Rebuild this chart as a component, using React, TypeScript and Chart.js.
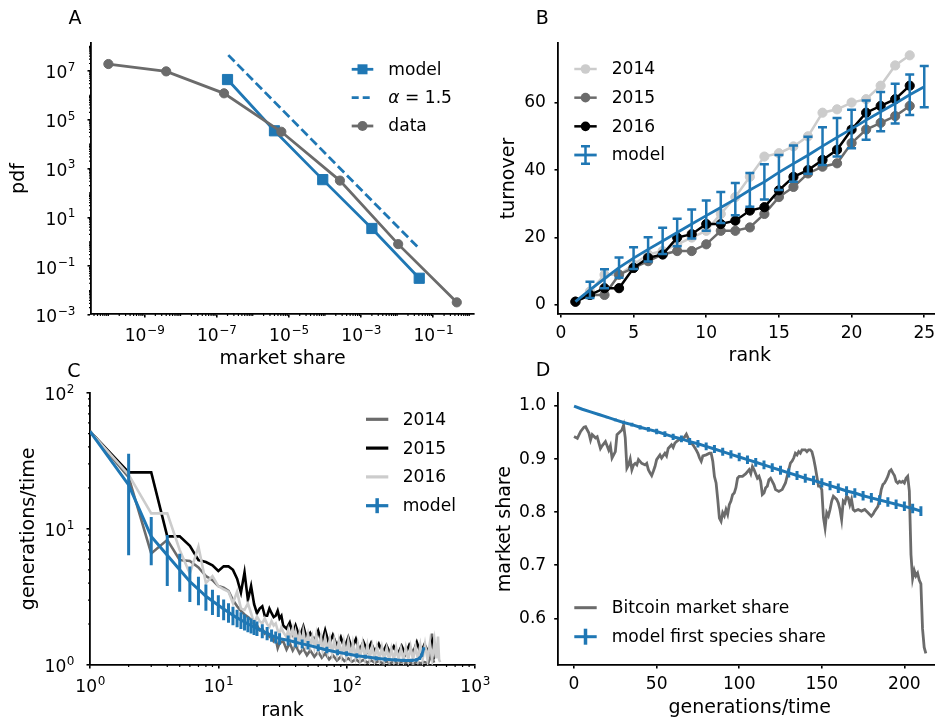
import React, { useEffect, useRef } from 'react';
import { Chart, registerables } from 'chart.js';
Chart.register(...registerables);

const BLUE = '#1f77b4';
const DARK = '#6b6b6b';
const LIGHT = '#cccccc';
const FONT = "'DejaVu Sans', 'Liberation Sans', sans-serif";
const TICK_SIZE = 17.1;
const SUP_SIZE = 12;
const TITLE_SIZE = 19;

// ---------- Panel A ----------
const aDataX = [1e-10, 4e-9, 1.6e-7, 6.2e-6, 2.6e-4, 1.07e-2, 0.45];
const aDataY = [1.9e7, 9.5e6, 1.2e6, 3.2e4, 320, 0.8, 0.0033];
const aModelX = [2e-7, 4e-6, 8.7e-5, 2e-3, 0.041];
const aModelY = [4.4e6, 3.5e4, 350, 3.5, 0.032];
const aAlphaX = [2.1e-7, 0.038];
const aAlphaY = [4.4e7, 0.59];
const aTickExpX = [-9, -7, -5, -3, -1];
const aTickExpY = [-3, -1, 1, 3, 5, 7];

// ---------- Panel B ----------
const bRank = [1, 2, 3, 4, 5, 6, 7, 8, 9, 10, 11, 12, 13, 14, 15, 16, 17, 18, 19, 20, 21, 22, 23, 24];
const b2014 = [1, 4, 9, 9, 12, 15, 16, 18, 20, 22, 27, 32, 38, 44, 45, 47, 50, 57, 58, 60, 61, 65, 71, 74];
const b2015 = [1, 3, 3, 9, 11, 13, 15, 16, 16, 18, 22, 22, 23, 27, 32, 35, 39, 41, 42, 48, 52, 54, 56, 59];
const b2016 = [1, 3, 5, 5, 11, 14, 15, 20, 21, 24, 24, 25, 28, 29, 34, 38, 40, 43, 46, 52, 57, 59, 61, 65];
const bModelRank = [1, 2, 3, 4, 5, 6, 7, 8, 9, 10, 11, 12, 13, 14, 15, 16, 17, 18, 19, 20, 21, 22, 23, 24, 25];
const bModelMean = [1, 4.5, 7.8, 11.1, 13.9, 16.5, 19, 21.5, 24, 26.5, 28.9, 31.4, 34.1, 36.5, 39.3, 41.9, 44.4, 47.1, 49.7, 52.2, 54.8, 57.3, 59.7, 62.3, 64.7];
const bModelErr = [0, 2.4, 2.8, 3.0, 3.2, 3.6, 3.9, 4.1, 4.3, 4.5, 4.6, 4.8, 5.0, 5.2, 5.2, 5.4, 5.5, 5.6, 5.7, 5.7, 5.8, 5.8, 5.9, 6.0, 6.1];
const bTicksX = [0, 5, 10, 15, 20, 25];
const bTicksY = [0, 20, 40, 60];

// ---------- Panel C ----------
const c2014Rank = [1, 2, 3, 4, 5, 6, 7, 8, 9, 10, 11, 12, 13, 14, 15, 16, 17, 18, 19, 20, 21, 22, 23, 24, 25, 26, 27, 28, 29, 30,
  32, 34, 36, 38, 40, 43, 46, 49, 52, 56, 60, 64, 68, 73, 78, 84, 90, 96, 103, 110, 118, 126, 135, 145, 155, 166, 178, 190, 204,
  218, 233, 250, 268, 287, 307, 329, 352, 377, 404, 432, 450, 462, 470, 480];
const c2014Val = [52, 24, 6.6, 8.3, 5.9, 5.8, 5.2, 4.5, 4.2, 3.8, 3.7, 3.5, 3.0, 2.7, 2.5, 2.35, 2.25, 2.15, 2.0, 1.95, 1.8, 1.85, 1.7, 1.75, 1.62, 1.68, 1.5, 1.55, 1.33, 1.45,
  1.5, 1.3, 1.45, 1.28, 1.4, 1.22, 1.32, 1.18, 1.28, 1.15, 1.25, 1.13, 1.22, 1.1, 1.18, 1.08, 1.15, 1.07, 1.12, 1.06, 1.1, 1.05, 1.09, 1.04, 1.08, 1.04, 1.07, 1.03, 1.06,
  1.03, 1.06, 1.03, 1.05, 1.03, 1.05, 1.02, 1.05, 1.03, 1.05, 1.03, 1.15, 1.7, 1.1, 1.04];
const c2015Rank = [1, 2, 3, 4, 5, 6, 7, 8, 9, 10, 11, 12, 13, 14, 15, 16, 17, 18, 19, 20, 21, 22, 23, 24, 25, 26, 27, 28, 29, 30, 31, 32,
  34, 36, 38, 40, 43, 46, 49, 52, 56, 60, 64, 68, 73, 78, 84, 90, 96, 103, 110, 118, 126, 135, 145, 155, 166, 178, 190, 204,
  218, 233, 250, 268, 287, 307, 329, 352, 377, 404, 432, 462, 475];
const c2015Val = [52, 26, 26, 8.8, 8.8, 7.5, 5.9, 5.7, 5.4, 4.9, 5.3, 5.3, 5.0, 4.3, 3.4, 4.8, 3.0, 3.8, 2.8, 2.4, 2.6, 2.7, 2.3, 2.3, 2.6, 2.4, 2.25, 2.3, 2.5, 2.2, 2.3, 1.95,
  1.85, 2.05, 1.7, 1.95, 1.6, 1.92, 1.55, 1.72, 1.5, 1.78, 1.45, 1.8, 1.42, 1.66, 1.38, 1.6, 1.33, 1.6, 1.32, 1.55, 1.28, 1.48, 1.26, 1.45, 1.25, 1.43, 1.23, 1.4,
  1.22, 1.37, 1.2, 1.38, 1.2, 1.4, 1.22, 1.47, 1.22, 1.42, 1.25, 1.48, 1.1];
const c2016Rank = [1, 2, 3, 4, 5, 6, 7, 8, 9, 10, 11, 12, 13, 14, 15, 16, 17, 18, 19, 20, 21, 22, 23, 24, 25, 26, 27, 28, 29, 30, 31, 32,
  34, 35, 36, 38, 39, 40, 42, 43, 45, 46, 48, 50, 52, 54, 56, 58, 60, 63, 65, 68, 71, 74, 77, 80, 84, 87, 91, 95,
  99, 103, 108, 112, 117, 122, 127, 133, 139, 145, 151, 158, 165, 172, 180, 188, 196, 205, 214, 223,
  233, 243, 254, 265, 277, 289, 302, 315, 329, 344, 359, 375, 391, 408, 426, 445, 464, 484, 500, 515, 525, 535];
const c2016Val = [52, 25, 13, 13, 7.0, 4.7, 7.4, 4.0, 4.5, 3.8, 3.6, 3.46, 2.84, 3.46, 2.6, 2.54, 2.84, 2.4, 2.02, 2.27, 2.1, 2.02, 2.2, 2.0, 1.91, 2.1, 1.95, 2.02, 1.8, 1.71, 1.9, 1.75,
  1.6, 1.8, 1.55, 1.85, 1.5, 1.75, 1.45, 1.7, 1.42, 1.75, 1.4, 1.68, 1.38, 1.62, 1.35, 1.66, 1.3, 1.6, 1.28, 1.58, 1.25, 1.55, 1.22, 1.52, 1.2, 1.5, 1.18, 1.48,
  1.16, 1.5, 1.15, 1.45, 1.14, 1.42, 1.12, 1.44, 1.12, 1.4, 1.11, 1.38, 1.1, 1.36, 1.1, 1.35, 1.09, 1.33, 1.09, 1.32,
  1.08, 1.34, 1.09, 1.32, 1.08, 1.34, 1.09, 1.36, 1.09, 1.37, 1.1, 1.4, 1.1, 1.42, 1.1, 1.45, 1.1, 1.5, 1.12, 1.62, 1.1, 1.05];
const cModelRank = [1, 2, 3, 4, 5, 6, 7, 8, 9, 10, 11, 12, 13, 14, 15, 16, 17, 18, 19, 20, 22, 24, 26, 28, 30, 35, 40, 45, 50, 60, 70, 85, 100,
  120, 140, 170, 200, 240, 280, 320, 350, 370, 385, 398];
const cModelVal = [52, 21, 8.8, 6.4, 5.0, 4.1, 3.6, 3.2, 2.95, 2.75, 2.58, 2.44, 2.32, 2.22, 2.14, 2.07, 2.0, 1.95, 1.9, 1.86, 1.78, 1.71, 1.65, 1.6, 1.56, 1.52, 1.47, 1.43, 1.4, 1.34, 1.29, 1.24, 1.21,
  1.17, 1.15, 1.12, 1.1, 1.09, 1.08, 1.08, 1.09, 1.12, 1.18, 1.32];
const cModelErr = [0, 14.6, 3.4, 2.6, 1.55, 1.2, 0.85, 0.7, 0.62, 0.5, 0.45, 0.4, 0.36, 0.33, 0.3, 0.28, 0.26, 0.25, 0.24, 0.23, 0.21, 0.19, 0.17, 0.16, 0.15, 0.13, 0.12, 0.11, 0.1, 0.08, 0.07, 0.06, 0.05,
  0.05, 0.04, 0.04, 0.04, 0.03, 0.03, 0.03, 0.03, 0.03, 0.03, 0.03];
const cTickExpX = [0, 1, 2, 3];
const cTickExpY = [0, 1, 2];

// ---------- Panel D ----------
const dBtcT = [0, 2, 4, 6, 7, 9, 10, 11, 13, 14, 16, 17, 19, 21, 22, 23, 25, 26, 28, 29, 30, 31, 32, 33, 34, 35, 36, 37, 38, 39, 41, 43, 44, 45, 46, 47, 48, 49, 50,
  52, 53, 55, 56, 57, 59, 60, 61, 62, 64, 65, 67, 68, 70, 72, 74, 75, 76, 77, 78, 80, 82, 83, 84, 85, 86, 87, 88, 89, 90, 91, 92, 93, 94, 95, 96, 97, 98, 99, 100,
  102, 104, 106, 107, 108, 109, 111, 112, 113, 114, 115, 116, 117, 118, 119, 121, 122, 124, 126, 128, 129, 130, 131, 132, 133, 134, 135, 136, 137, 138, 140,
  141, 142, 143, 144, 145, 146, 147, 148, 149, 150, 151, 152, 153, 154, 155, 156, 157, 158, 159, 160, 161, 162, 163, 164, 165, 166, 167, 168, 169, 170,
  172, 174, 176, 178, 180, 181, 182, 184, 185, 186, 187, 188, 189, 190, 191, 192, 193, 194, 195, 196, 197, 198, 199, 200, 201, 202, 203, 204, 205, 206,
  207, 208, 209, 210, 211, 212, 213];
const dBtcShare = [0.9425, 0.939, 0.952, 0.96, 0.961, 0.949, 0.936, 0.946, 0.94, 0.942, 0.92, 0.925, 0.933, 0.917, 0.925, 0.902, 0.914, 0.946, 0.952, 0.955, 0.964, 0.94, 0.883, 0.889, 0.9, 0.88, 0.889, 0.892, 0.889, 0.899, 0.892, 0.889, 0.892, 0.88, 0.874, 0.869, 0.877, 0.886, 0.899,
  0.908, 0.902, 0.911, 0.906, 0.92, 0.927, 0.922, 0.93, 0.933, 0.9375, 0.936, 0.942, 0.947, 0.933, 0.927, 0.917, 0.911, 0.902, 0.896, 0.906, 0.908, 0.911, 0.911, 0.896, 0.867, 0.855, 0.824, 0.789, 0.783, 0.799, 0.793, 0.805, 0.796, 0.814, 0.821, 0.833, 0.836, 0.846, 0.864, 0.8675,
  0.8675, 0.8725, 0.88, 0.8725, 0.886, 0.88, 0.864, 0.8675, 0.858, 0.833, 0.836, 0.846, 0.849, 0.861, 0.864, 0.852, 0.8425, 0.839, 0.8425, 0.855, 0.8675, 0.88, 0.8925, 0.896, 0.902, 0.911, 0.908, 0.914, 0.911, 0.9175, 0.9175,
  0.914, 0.9175, 0.9175, 0.914, 0.902, 0.886, 0.8675, 0.849, 0.849, 0.8425, 0.79, 0.77, 0.799, 0.793, 0.805, 0.821, 0.83, 0.827, 0.824, 0.8175, 0.805, 0.786, 0.821, 0.8175, 0.83, 0.827, 0.814, 0.824, 0.805, 0.802,
  0.805, 0.802, 0.805, 0.799, 0.7925, 0.796, 0.802, 0.811, 0.824, 0.8425, 0.852, 0.855, 0.861, 0.8675, 0.877, 0.88, 0.874, 0.869, 0.858, 0.855, 0.858, 0.856, 0.858, 0.855, 0.864, 0.8675, 0.84, 0.72, 0.675, 0.69,
  0.68, 0.685, 0.672, 0.665, 0.58, 0.545, 0.534];
const dModelT = [0, 5, 10, 15, 20, 25, 30, 35, 40, 45, 50, 55, 60, 65, 70, 75, 80, 85, 90, 95, 100, 105, 110, 115, 120, 125, 130, 135, 140, 145, 150, 155, 160, 165, 170, 175, 180, 185, 190, 195, 200, 205, 210];
const dModelShare = [1.0, 0.994, 0.989, 0.984, 0.979, 0.974, 0.969, 0.965, 0.96, 0.956, 0.952, 0.947, 0.942, 0.938, 0.933, 0.929, 0.924, 0.919, 0.914, 0.909, 0.904, 0.899, 0.894, 0.889, 0.884, 0.879, 0.874, 0.869, 0.864, 0.86, 0.855, 0.85, 0.845, 0.84, 0.836, 0.831, 0.827, 0.823, 0.819, 0.815, 0.811, 0.807, 0.802];
const dModelErr = [0, 0.0005, 0.001, 0.0015, 0.002, 0.0025, 0.003, 0.0035, 0.004, 0.0045, 0.005, 0.0055, 0.006, 0.0063, 0.0066, 0.007, 0.0072, 0.0074, 0.0076, 0.0078, 0.008, 0.008, 0.0082, 0.0082, 0.0084, 0.0084, 0.0085, 0.0085, 0.0086, 0.0086, 0.0087, 0.0087, 0.0088, 0.0088, 0.0089, 0.0089, 0.009, 0.009, 0.009, 0.009, 0.009, 0.009, 0.009];
const dTicksX = [0, 50, 100, 150, 200];
const dTicksY = [0.6, 0.7, 0.8, 0.9, 1.0];

// ---------- helpers ----------
const xy = (xs: number[], ys: number[]) => xs.map((x, i) => ({ x, y: ys[i] }));
const minorLogValues = (eMin: number, eMax: number, majorsExp: number[]) => {
  const out: number[] = [];
  for (let e = eMin; e <= eMax; e++) {
    for (let k = 1; k <= 9; k++) {
      if (k === 1 && majorsExp.includes(e)) continue;
      out.push(k * Math.pow(10, e));
    }
  }
  return out;
};

const errorBarPlugin = {
  id: 'errorBars',
  afterDatasetDraw(chart: any, args: any) {
    const ds: any = chart.data.datasets[args.index];
    if (!ds.errors) return;
    const meta = args.meta;
    const ys = chart.scales[meta.yAxisID];
    const { ctx, chartArea } = chart;
    ctx.save();
    ctx.beginPath();
    ctx.rect(chartArea.left - 10, chartArea.top, chartArea.right - chartArea.left + 20, chartArea.bottom - chartArea.top);
    ctx.clip();
    ctx.strokeStyle = ds.borderColor;
    ctx.lineWidth = ds.errorWidth;
    meta.data.forEach((pt: any, i: number) => {
      const e = ds.errors[i];
      if (!e) return;
      const v = ds.data[i].y;
      const yTop = ys.getPixelForValue(v + e);
      const lo = v - e;
      const yBot = lo > 0 || ys.type !== 'logarithmic' ? ys.getPixelForValue(lo) : chartArea.bottom + 5;
      ctx.beginPath();
      ctx.moveTo(pt.x, yTop);
      ctx.lineTo(pt.x, yBot);
      ctx.stroke();
      if (ds.capHalf) {
        ctx.beginPath();
        ctx.moveTo(pt.x - ds.capHalf, yTop);
        ctx.lineTo(pt.x + ds.capHalf, yTop);
        ctx.moveTo(pt.x - ds.capHalf, yBot);
        ctx.lineTo(pt.x + ds.capHalf, yBot);
        ctx.stroke();
      }
    });
    ctx.restore();
  },
};

const minorTickPlugin = {
  id: 'minorTicks',
  afterDraw(chart: any, _a: any, opts: any) {
    if (!opts || !opts.enabled) return;
    const { ctx, chartArea } = chart;
    const xs = chart.scales.x;
    const ys = chart.scales.y;
    ctx.save();
    ctx.strokeStyle = '#000';
    ctx.lineWidth = 1.2;
    for (const v of opts.x || []) {
      if (v < xs.min || v > xs.max) continue;
      const p = xs.getPixelForValue(v);
      ctx.beginPath();
      ctx.moveTo(p, chartArea.bottom);
      ctx.lineTo(p, chartArea.bottom + opts.len);
      ctx.stroke();
    }
    for (const v of opts.y || []) {
      if (v < ys.min || v > ys.max) continue;
      const p = ys.getPixelForValue(v);
      ctx.beginPath();
      ctx.moveTo(chartArea.left, p);
      ctx.lineTo(chartArea.left - opts.len, p);
      ctx.stroke();
    }
    ctx.restore();
  },
};

// draws "10" with a raised exponent (mathtext style) for log axes
const powLabelPlugin = {
  id: 'powLabels',
  afterDraw(chart: any, _a: any, opts: any) {
    if (!opts || !opts.enabled) return;
    const { ctx, chartArea } = chart;
    const xs = chart.scales.x;
    const ys = chart.scales.y;
    ctx.save();
    ctx.fillStyle = '#000';
    ctx.textBaseline = 'alphabetic';
    ctx.textAlign = 'left';
    const base = `${TICK_SIZE}px ${FONT}`;
    const sup = `${SUP_SIZE}px ${FONT}`;
    const parts = (v: number) => {
      const e = Math.round(Math.log10(v));
      const es = String(e).replace('-', '\u2212');
      ctx.font = base;
      const w1 = ctx.measureText('10').width;
      ctx.font = sup;
      const w2 = ctx.measureText(es).width;
      return { es, w1, w2 };
    };
    const draw = (p: any, x: number, yb: number) => {
      ctx.font = base;
      ctx.fillText('10', x, yb);
      ctx.font = sup;
      ctx.fillText(p.es, x + p.w1 + 0.6, yb - opts.raise);
    };
    xs.ticks.forEach((t: any) => {
      const px = xs.getPixelForValue(t.value);
      const p = parts(t.value);
      draw(p, px - (p.w1 + p.w2) / 2, chartArea.bottom + opts.xBase);
    });
    ys.ticks.forEach((t: any) => {
      const py = ys.getPixelForValue(t.value);
      const p = parts(t.value);
      draw(p, chartArea.left - opts.yGap - (p.w1 + p.w2 + 0.6), py + opts.yBase);
    });
    ctx.restore();
  },
};

const legendPlugin = {
  id: 'panelLegend',
  afterDraw(chart: any, _a: any, opts: any) {
    if (!opts || !opts.items) return;
    const ctx = chart.ctx;
    ctx.save();
    opts.items.forEach((it: any, i: number) => {
      const y = opts.y0 + i * opts.dy;
      const x0 = opts.x0;
      const x1 = opts.x1;
      const xm = (x0 + x1) / 2;
      ctx.strokeStyle = it.color;
      ctx.fillStyle = it.color;
      ctx.lineWidth = it.lw;
      ctx.setLineDash(it.dash || []);
      ctx.beginPath();
      ctx.moveTo(x0, y);
      ctx.lineTo(x1, y);
      ctx.stroke();
      ctx.setLineDash([]);
      if (it.marker === 'circle') {
        ctx.beginPath();
        ctx.arc(xm, y, it.ms, 0, Math.PI * 2);
        ctx.fill();
      } else if (it.marker === 'square') {
        ctx.fillRect(xm - it.ms, y - it.ms, it.ms * 2, it.ms * 2);
      }
      if (it.err) {
        ctx.lineWidth = it.err.w;
        ctx.beginPath();
        ctx.moveTo(xm, y - it.err.half);
        ctx.lineTo(xm, y + it.err.half);
        if (it.err.cap) {
          ctx.moveTo(xm - it.err.cap, y - it.err.half);
          ctx.lineTo(xm + it.err.cap, y - it.err.half);
          ctx.moveTo(xm - it.err.cap, y + it.err.half);
          ctx.lineTo(xm + it.err.cap, y + it.err.half);
        }
        ctx.stroke();
      }
      ctx.fillStyle = '#000';
      ctx.textBaseline = 'middle';
      ctx.textAlign = 'left';
      let cx = opts.textX;
      const ps = it.parts || [{ text: it.label }];
      for (const p of ps) {
        ctx.font = `${p.italic ? 'italic ' : ''}${TICK_SIZE}px ${FONT}`;
        ctx.fillText(p.text, cx, y + 1);
        cx += ctx.measureText(p.text).width;
      }
    });
    ctx.restore();
  },
};

function axis(o: any) {
  const isX = o.pos === 'bottom';
  return {
    type: o.type,
    position: o.pos,
    min: o.min,
    max: o.max,
    afterBuildTicks: (s: any) => {
      s.ticks = o.ticks.map((v: number) => ({ value: v }));
    },
    afterFit: (s: any) => {
      if (isX) s.height = o.size;
      else s.width = o.size;
    },
    grid: { drawOnChartArea: false, drawTicks: true, tickLength: 3.5, color: '#000', lineWidth: 1.6, tickWidth: 1.6, tickColor: '#000' },
    border: { display: true, color: '#000', width: 1.8 },
    ticks: {
      display: !o.custom,
      color: '#000',
      font: { family: FONT, size: TICK_SIZE },
      padding: o.tickPad,
      maxRotation: 0,
      minRotation: 0,
      autoSkip: false,
      callback: (v: any) => o.fmt(Number(v)),
    },
    title: {
      display: true,
      text: o.title,
      color: '#000',
      font: { family: FONT, size: TITLE_SIZE },
      padding: isX ? { top: 0, bottom: o.titlePad } : { top: o.titlePad, bottom: 0 },
    },
  };
}

function baseOptions(pad: any, scales: any, plugins: any) {
  return {
    responsive: false,
    maintainAspectRatio: false,
    animation: false,
    devicePixelRatio: 1,
    events: [],
    layout: { padding: pad },
    plugins: { legend: { display: false }, tooltip: { enabled: false }, ...plugins },
    scales,
  };
}

const PLUGINS = [errorBarPlugin, minorTickPlugin, powLabelPlugin, legendPlugin];
const POW = { enabled: true, raise: 7.5, xBase: 27, yBase: 7.4, yGap: 15.5 };
const str = (v: number) => String(v);

function makeA() {
  return {
    type: 'scatter',
    data: {
      datasets: [
        { data: xy(aDataX, aDataY), showLine: true, borderColor: DARK, backgroundColor: DARK, pointBackgroundColor: DARK, pointBorderColor: DARK, borderWidth: 2.8, pointRadius: 4.6, pointBorderWidth: 1, order: 1 },
        { data: xy(aAlphaX, aAlphaY), showLine: true, borderColor: BLUE, borderWidth: 2.8, borderDash: [9, 4], pointRadius: 0, order: 2 },
        { data: xy(aModelX, aModelY), showLine: true, borderColor: BLUE, backgroundColor: BLUE, pointBackgroundColor: BLUE, pointBorderColor: BLUE, borderWidth: 2.8, pointRadius: 7.2, pointStyle: 'rect', pointBorderWidth: 1, order: 3 },
      ],
    },
    options: baseOptions(
      { left: 0, top: 43, right: 16, bottom: 0 },
      {
        x: axis({ pos: 'bottom', type: 'logarithmic', custom: true, min: 3.3e-11, max: 1.35, ticks: aTickExpX.map((e) => Math.pow(10, e)), fmt: str, size: 56, tickPad: 5.6, title: 'market share', titlePad: 0 }),
        y: axis({ pos: 'left', type: 'logarithmic', custom: true, min: 1.1e-3, max: 1.38e8, ticks: aTickExpY.map((e) => Math.pow(10, e)), fmt: str, size: 91, tickPad: 7, title: 'pdf', titlePad: 7.7 }),
      },
      {
        minorTicks: { enabled: true, len: 2, x: minorLogValues(-11, 0, aTickExpX), y: minorLogValues(-3, 8, aTickExpY) },
        powLabels: POW,
        panelLegend: {
          x0: 351.7, x1: 373.3, textX: 388.3, y0: 69.3, dy: 28.35,
          items: [
            { label: 'model', color: BLUE, lw: 2.8, marker: 'square', ms: 5 },
            { parts: [{ text: 'α', italic: true }, { text: ' = 1.5' }], color: BLUE, lw: 2.8, dash: [7, 4] },
            { label: 'data', color: DARK, lw: 2.8, marker: 'circle', ms: 5 },
          ],
        },
      }
    ),
    plugins: PLUGINS,
  };
}

function makeB() {
  const pts = { pointRadius: 4.6, pointBorderWidth: 1, borderWidth: 2.5, showLine: true };
  return {
    type: 'scatter',
    data: {
      datasets: [
        { data: xy(bModelRank, bModelMean), showLine: true, borderColor: BLUE, borderWidth: 2.8, pointRadius: 0, errors: bModelErr, errorWidth: 2.5, capHalf: 4.5, order: 1 },
        { data: xy(bRank, b2016), ...pts, borderColor: '#000', backgroundColor: '#000', pointBackgroundColor: '#000', pointBorderColor: '#000', order: 2 },
        { data: xy(bRank, b2015), ...pts, borderColor: DARK, backgroundColor: DARK, pointBackgroundColor: DARK, pointBorderColor: DARK, order: 3 },
        { data: xy(bRank, b2014), ...pts, borderColor: LIGHT, backgroundColor: LIGHT, pointBackgroundColor: LIGHT, pointBorderColor: LIGHT, order: 4 },
      ],
    },
    options: baseOptions(
      { left: 0, top: 43, right: 13.3, bottom: 0 },
      {
        x: axis({ pos: 'bottom', type: 'linear', min: -0.2, max: 26.2, ticks: bTicksX, fmt: str, size: 56, tickPad: 6.1, title: 'rank', titlePad: 2.7 }),
        y: axis({ pos: 'left', type: 'linear', min: -2.65, max: 77.65, ticks: bTicksY, fmt: str, size: 93, tickPad: 8.5, title: 'turnover', titlePad: 33.1 }),
      },
      {
        panelLegend: {
          x0: 109.3, x1: 131.7, textX: 146.7, y0: 69, dy: 28.67,
          items: [
            { label: '2014', color: LIGHT, lw: 2.5, marker: 'circle', ms: 4.8 },
            { label: '2015', color: DARK, lw: 2.5, marker: 'circle', ms: 4.8 },
            { label: '2016', color: '#000', lw: 2.5, marker: 'circle', ms: 4.8 },
            { label: 'model', color: BLUE, lw: 2.8, err: { half: 8.7, cap: 4.5, w: 2.5 } },
          ],
        },
      }
    ),
    plugins: PLUGINS,
  };
}

function makeC() {
  const line = { showLine: true, pointRadius: 0, borderWidth: 2.6 };
  return {
    type: 'scatter',
    data: {
      datasets: [
        { data: xy(cModelRank, cModelVal), showLine: true, pointRadius: 0, borderWidth: 3, borderColor: BLUE, errors: cModelErr, errorWidth: 3, order: 1 },
        { data: xy(c2016Rank, c2016Val), ...line, borderColor: LIGHT, order: 2 },
        { data: xy(c2015Rank, c2015Val), ...line, borderColor: '#000', order: 3 },
        { data: xy(c2014Rank, c2014Val), ...line, borderColor: DARK, order: 4 },
      ],
    },
    options: baseOptions(
      { left: 0, top: 22.7, right: 25, bottom: 0 },
      {
        x: axis({ pos: 'bottom', type: 'logarithmic', custom: true, min: 1, max: 1000, ticks: cTickExpX.map((e) => Math.pow(10, e)), fmt: str, size: 57, tickPad: 5.1, title: 'rank', titlePad: 0 }),
        y: axis({ pos: 'left', type: 'logarithmic', custom: true, min: 1, max: 100, ticks: cTickExpY.map((e) => Math.pow(10, e)), fmt: str, size: 90, tickPad: 7.5, title: 'generations/time', titlePad: 17.9 }),
      },
      {
        minorTicks: { enabled: true, len: 2, x: minorLogValues(0, 2, cTickExpX), y: minorLogValues(0, 1, cTickExpY) },
        powLabels: POW,
        panelLegend: {
          x0: 366, x1: 388.3, textX: 402.7, y0: 49.3, dy: 28.8,
          items: [
            { label: '2014', color: DARK, lw: 3.2 },
            { label: '2015', color: '#000', lw: 3.2 },
            { label: '2016', color: LIGHT, lw: 3.2 },
            { label: 'model', color: BLUE, lw: 3.2, err: { half: 7.5, cap: 0, w: 3.5 } },
          ],
        },
      }
    ),
    plugins: PLUGINS,
  };
}

function makeD() {
  return {
    type: 'scatter',
    data: {
      datasets: [
        { data: xy(dModelT, dModelShare), showLine: true, pointRadius: 0, borderWidth: 3, borderColor: BLUE, errors: dModelErr, errorWidth: 3, order: 1 },
        { data: xy(dBtcT, dBtcShare), showLine: true, pointRadius: 0, borderWidth: 2.8, borderColor: DARK, order: 2 },
      ],
    },
    options: baseOptions(
      { left: 0, top: 23.3, right: 13.3, bottom: 0 },
      {
        x: axis({ pos: 'bottom', type: 'linear', min: -9.9, max: 222.6, ticks: dTicksX, fmt: str, size: 57, tickPad: 5.6, title: 'generations/time', titlePad: 3 }),
        y: axis({ pos: 'left', type: 'linear', min: 0.512, max: 1.024, ticks: dTicksY, fmt: (v: number) => v.toFixed(1), size: 92.7, tickPad: 8, title: 'market share', titlePad: 28.9 }),
      },
      {
        panelLegend: {
          x0: 109.3, x1: 131.7, textX: 146.7, y0: 237.7, dy: 29,
          items: [
            { label: 'Bitcoin market share', color: DARK, lw: 3 },
            { label: 'model first species share', color: BLUE, lw: 3, err: { half: 8, cap: 0, w: 3.5 } },
          ],
        },
      }
    ),
    plugins: PLUGINS,
  };
}

function Panel(props: { left: number; top: number; width: number; height: number; make: () => any }) {
  const ref = useRef<HTMLCanvasElement | null>(null);
  useEffect(() => {
    const chart = new Chart(ref.current as HTMLCanvasElement, props.make());
    return () => chart.destroy();
  }, []);
  return (
    <div style={{ position: 'absolute', left: props.left, top: props.top, width: props.width, height: props.height }}>
      <canvas ref={ref} width={props.width} height={props.height} style={{ width: props.width, height: props.height, display: 'block' }} />
    </div>
  );
}

function Letter(props: { text: string; cx: number; cy: number }) {
  return (
    <div
      style={{
        position: 'absolute',
        left: props.cx - 15,
        top: props.cy - 9.1,
        width: 30,
        textAlign: 'center',
        fontFamily: FONT,
        fontSize: TITLE_SIZE,
        lineHeight: 1,
        color: '#000',
      }}
    >
      {props.text}
    </div>
  );
}

export default function App() {
  return (
    <div style={{ position: 'fixed', left: 0, top: 0, width: 935, height: 722, overflow: 'hidden', background: '#fff' }}>
      <Panel left={0} top={0} width={490} height={370} make={makeA} />
      <Panel left={465} top={0} width={490} height={370} make={makeB} />
      <Panel left={0} top={370} width={500} height={352} make={makeC} />
      <Panel left={465} top={370} width={490} height={352} make={makeD} />
      <Letter text="A" cx={75} cy={17} />
      <Letter text="B" cx={542.3} cy={17} />
      <Letter text="C" cx={74} cy={370} />
      <Letter text="D" cx={543} cy={369} />
    </div>
  );
}
